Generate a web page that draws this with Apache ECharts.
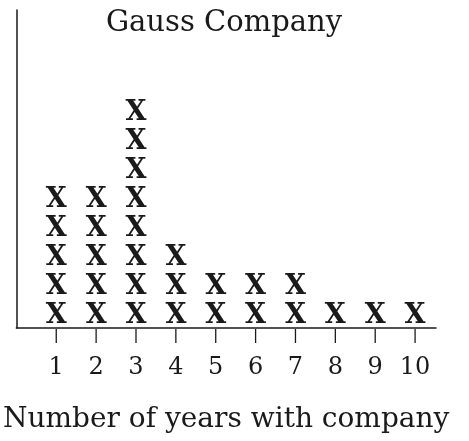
<!DOCTYPE html>
<html>
<head>
<meta charset="utf-8">
<script src="https://cdn.jsdelivr.net/npm/echarts@6/dist/echarts.min.js"></script>
<style>
  html, body { margin: 0; padding: 0; background: #fff; }
  #main { width: 469px; height: 441px; }
</style>
</head>
<body>
<div id="main"></div>
<script>
// years with company and how many employees (one X each)
var years = [1, 2, 3, 4, 5, 6, 7, 8, 9, 10];
var counts = [5, 5, 8, 3, 2, 2, 2, 1, 1, 1];
var tickLabels = ['1', '2', '3', '4', '5', '6', '7', '8', '9', '10'];

// stack the X marks: the k-th mark of a column sits at k - 0.5
var points = [];
for (var i = 0; i < years.length; i++) {
    for (var k = 1; k <= counts[i]; k++) {
        points.push([years[i], k - 0.5]);
    }
}
// one tick per year, hanging under the axis line
var tickPoints = years.map(function (y) { return [y, 0]; });

var ink = '#1a1a1a';
var serif = 'DejaVu Serif';

var chart = echarts.init(document.getElementById('main'));
chart.setOption({
    animation: false,
    title: {
        text: 'Gauss Company',
        left: 224,
        textAlign: 'center',
        top: 9,
        padding: 0,
        textStyle: { color: ink, fontFamily: serif, fontSize: 29, fontWeight: 'normal' }
    },
    grid: { left: 15, right: 33, top: 10, bottom: 113 },
    xAxis: {
        type: 'value',
        min: 0,
        max: 10.525,
        interval: 1,
        name: 'Number of years with company',
        nameLocation: 'middle',
        nameGap: 78,
        nameTextStyle: { color: ink, fontFamily: serif, fontSize: 28 },
        axisLine: { lineStyle: { color: ink, width: 1.5 } },
        axisTick: { show: false },
        axisLabel: {
            formatter: function (v) {
                var idx = years.indexOf(v);
                return idx < 0 ? '' : tickLabels[idx];
            },
            margin: 28,
            color: ink,
            fontFamily: serif,
            fontSize: 24
        },
        splitLine: { show: false }
    },
    yAxis: {
        type: 'value',
        min: 0,
        max: 10.97,
        axisLine: { show: true, lineStyle: { color: ink, width: 1.5 } },
        axisTick: { show: false },
        axisLabel: { show: false },
        splitLine: { show: false }
    },
    series: [{
        type: 'scatter',
        data: points,
        symbolSize: 1,
        itemStyle: { color: 'rgba(0,0,0,0)', opacity: 1 },
        label: {
            show: true,
            position: 'inside',
            formatter: 'X',
            color: ink,
            fontFamily: serif,
            fontWeight: 'bold',
            fontSize: 27,
            offset: [0, 2]
        }
    }, {
        type: 'scatter',
        data: tickPoints,
        clip: false,
        silent: true,
        z: 5,
        symbol: 'rect',
        symbolSize: [1.3, 14],
        symbolOffset: [0, 8],
        itemStyle: { color: ink, opacity: 1 }
    }]
});
</script>
</body>
</html>
